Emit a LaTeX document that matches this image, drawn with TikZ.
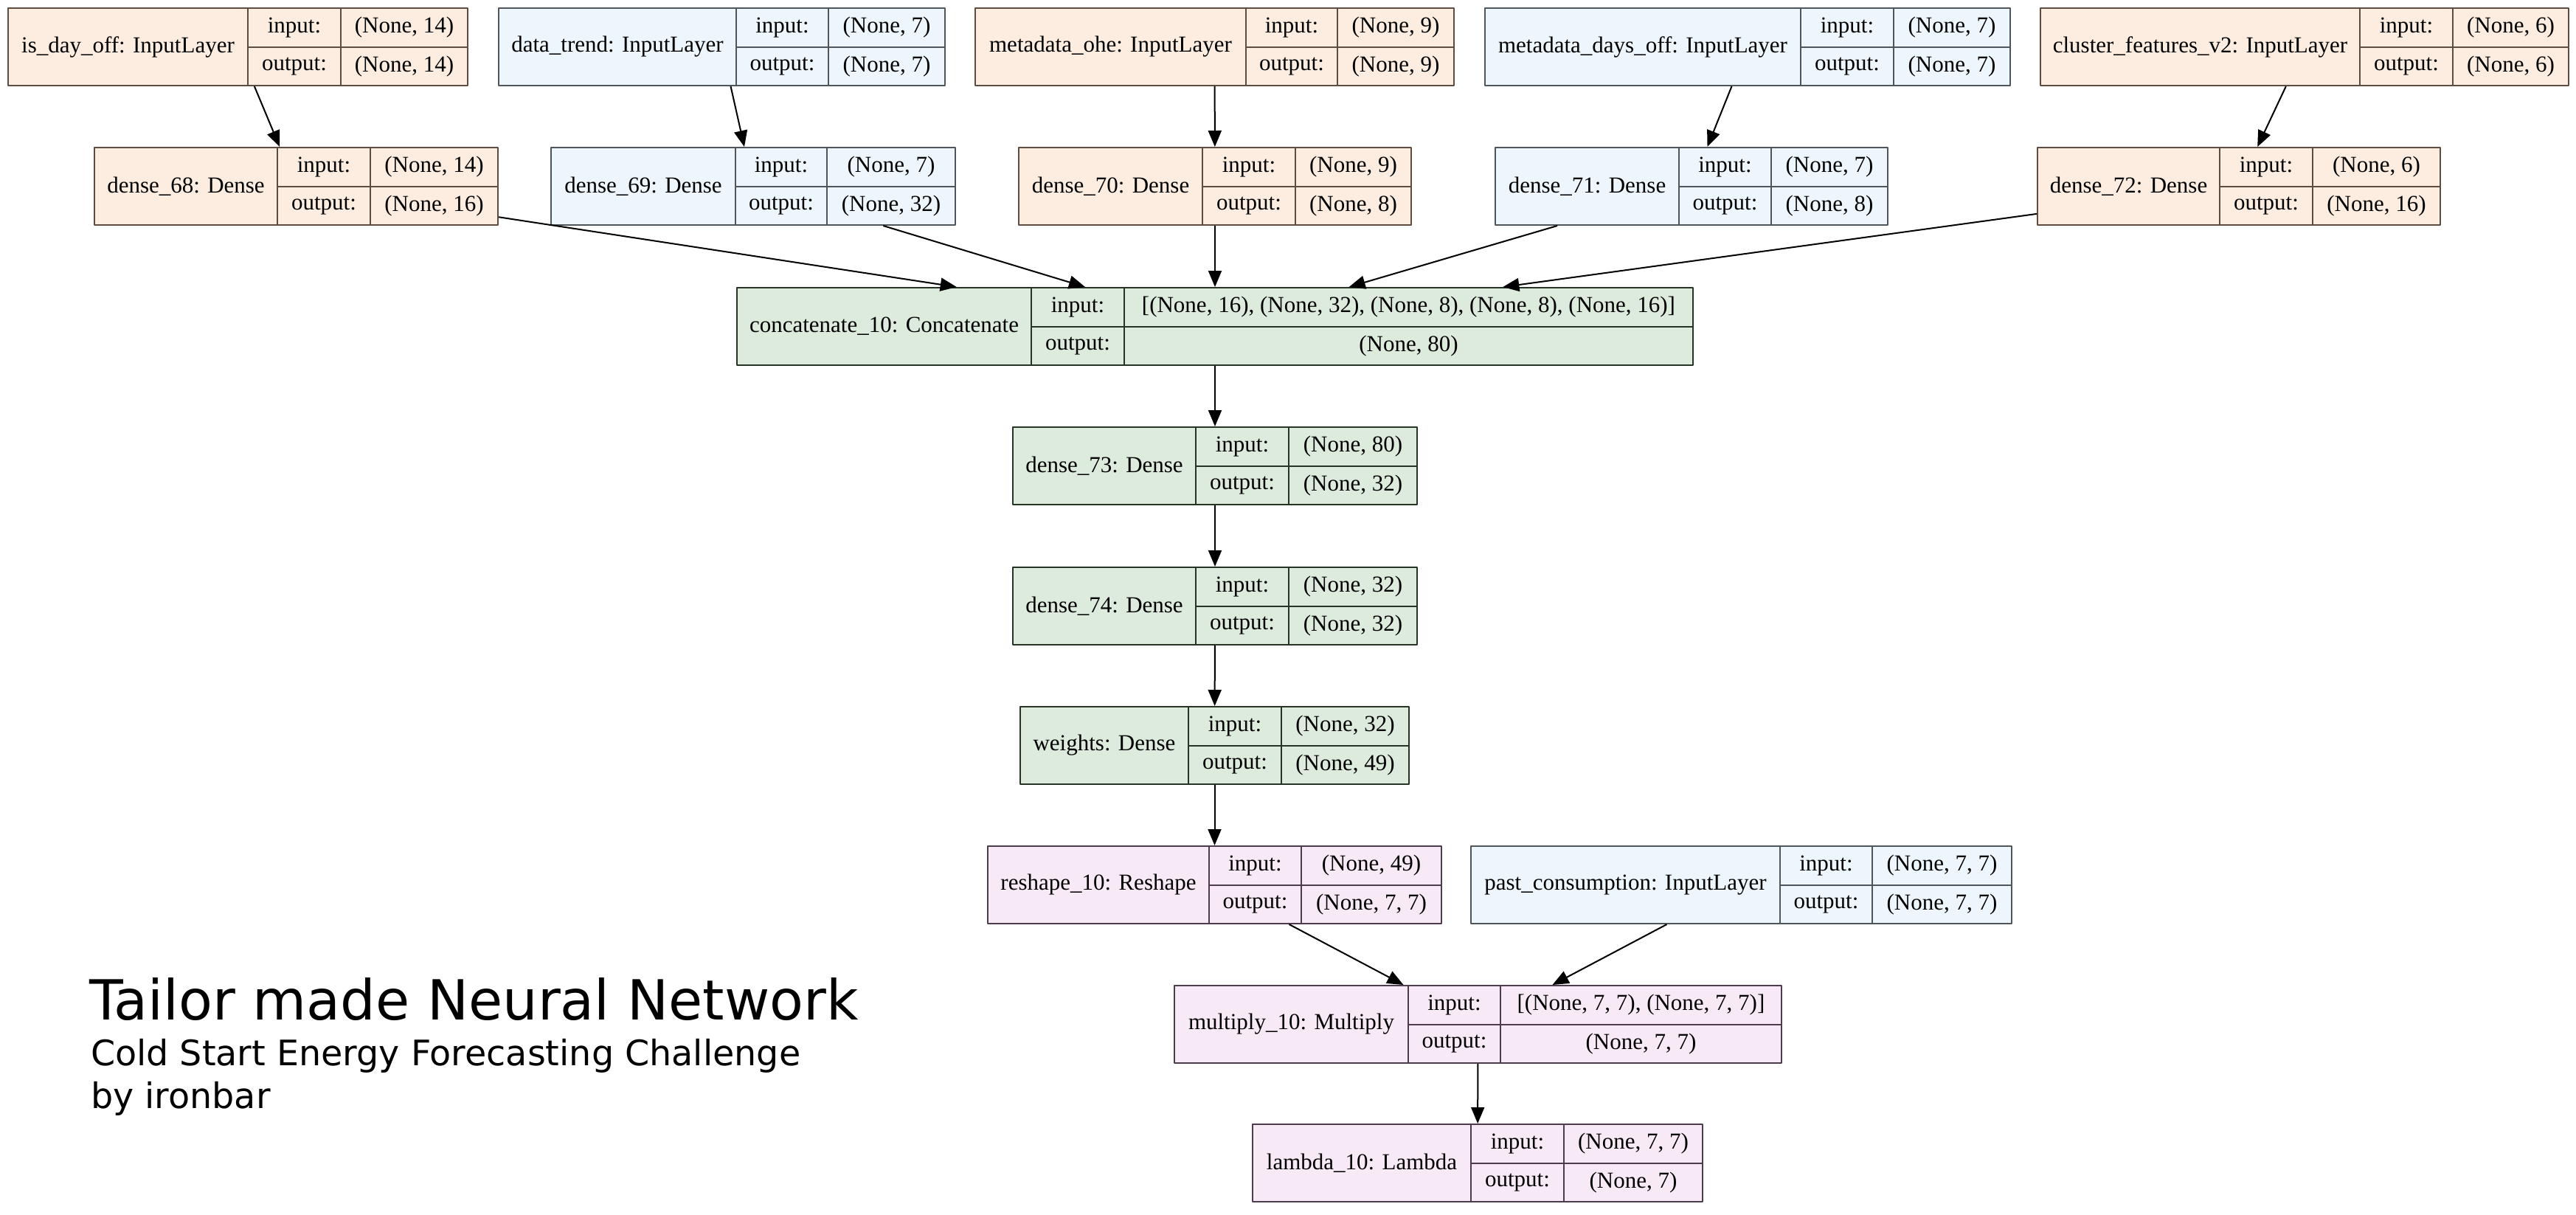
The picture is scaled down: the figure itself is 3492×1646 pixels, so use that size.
\documentclass[tikz,border=0pt]{standalone}
\usepackage{fontspec}
\setmainfont{Liberation Serif}
\newfontfamily\titlefont{DejaVu Sans}
\usetikzlibrary{arrows.meta,fit}
\definecolor{ornF}{HTML}{FDEDE0}
\definecolor{ornD}{HTML}{5E4C40}
\definecolor{bluF}{HTML}{EEF6FD}
\definecolor{bluD}{HTML}{4E565C}
\definecolor{grnF}{HTML}{DDEBDD}
\definecolor{grnD}{HTML}{263426}
\definecolor{pnkF}{HTML}{F8E9F7}
\definecolor{pnkD}{HTML}{4C3C4C}
\begin{document}
\begin{tikzpicture}[x=.5pt,y=-.5pt,line join=round,>={Triangle[length=11pt,width=9pt]},line width=1pt]
	\tikzset{orn/.style={draw=ornD,fill=ornF},blu/.style={draw=bluD,fill=bluF},
		grn/.style={draw=grnD,fill=grnF},pnk/.style={draw=pnkD,fill=pnkF},
		cell/.style={inner sep=0pt,font=\fontsize{15.5}{18}\selectfont},
		head/.style={anchor=base west,inner sep=0pt}}
	\useasboundingbox (0,0) rectangle (3492,1646);
	% layers: name/colour/x of the four edges/top/texts
	\foreach \nm/\st/\xa/\xb/\xc/\xd/\ya/\ttl/\vin/\vout in {
		idoff/orn/11/336/462/634/11/{is\_day\_off: InputLayer}/{(None, 14)}/{(None, 14)},
		dtrend/blu/676/998/1123/1281/11/{data\_trend: InputLayer}/{(None, 7)}/{(None, 7)},
		mohe/orn/1322/1689/1813/1971/11/{metadata\_ohe: InputLayer}/{(None, 9)}/{(None, 9)},
		mdays/blu/2013/2441/2567/2725/11/{metadata\_days\_off: InputLayer}/{(None, 7)}/{(None, 7)},
		clust/orn/2766/3199/3325/3482/11/{cluster\_features\_v2: InputLayer}/{(None, 6)}/{(None, 6)},
		d68/orn/128/376/502/675/200/{dense\_68: Dense}/{(None, 14)}/{(None, 16)},
		d69/blu/747/997/1121/1295/200/{dense\_69: Dense}/{(None, 7)}/{(None, 32)},
		d70/orn/1381/1630/1756/1913/200/{dense\_70: Dense}/{(None, 9)}/{(None, 8)},
		d71/blu/2027/2276/2401/2559/200/{dense\_71: Dense}/{(None, 7)}/{(None, 8)},
		d72/orn/2762/3009/3135/3308/200/{dense\_72: Dense}/{(None, 6)}/{(None, 16)},
		cat/grn/999/1398/1524/2295/390/{concatenate\_10: Concatenate}/{[(None, 16), (None, 32), (None, 8), (None, 8), (None, 16)]}/{(None, 80)},
		d73/grn/1373/1621/1747/1921/579/{dense\_73: Dense}/{(None, 80)}/{(None, 32)},
		d74/grn/1373/1621/1747/1921/769/{dense\_74: Dense}/{(None, 32)}/{(None, 32)},
		wts/grn/1383/1611/1737/1910/958/{weights: Dense}/{(None, 32)}/{(None, 49)},
		resh/pnk/1339/1639/1764/1954/1147/{reshape\_10: Reshape}/{(None, 49)}/{(None, 7, 7)},
		past/blu/1994/2413/2538/2727/1147/{past\_consumption: InputLayer}/{(None, 7, 7)}/{(None, 7, 7)},
		mult/pnk/1592/1909/2034/2415/1336/{multiply\_10: Multiply}/{[(None, 7, 7), (None, 7, 7)]}/{(None, 7, 7)},
		lam/pnk/1698/1994/2120/2308/1524/{lambda\_10: Lambda}/{(None, 7, 7)}/{(None, 7)}}
	{
		\node[\st,fit={(\xa,\ya) (\xd,\ya+105)},inner sep=0pt] (\nm) {};
		\draw[\st,fill=none] (\xb,\ya)--(\xb,\ya+105) (\xc,\ya)--(\xc,\ya+105) (\xb,\ya+52.5)--(\xd,\ya+52.5);
		\node[cell] (\nm-t) at ({(\xa+\xb)/2},\ya+52.5) {\ttl};
		\node[cell] (\nm-i) at ({(\xb+\xc)/2},\ya+26.25) {input:};
		\node[cell] (\nm-o) at ({(\xb+\xc)/2},\ya+78.75) {output:};
		\node[cell] (\nm-iv) at ({(\xc+\xd)/2},\ya+26.25) {\vin};
		\node[cell] (\nm-ov) at ({(\xc+\xd)/2},\ya+78.75) {\vout};
	}
	\foreach \a/\b in {idoff/d68,dtrend/d69,mohe/d70,mdays/d71,clust/d72,d68/cat,d69/cat,d70/cat,d71/cat,d72/cat,
		cat/d73,d73/d74,d74/wts,wts/resh,resh/mult,past/mult,mult/lam}
	\draw[->] (\a)--(\b);
	\node[head,font=\titlefont\fontsize{37.5}{45}\selectfont] (head) at (120,1382) {Tailor made Neural Network};
	\node[head,font=\titlefont\fontsize{23.8}{28}\selectfont] (sub) at (122,1444) {Cold Start Energy Forecasting Challenge};
	\node[head,font=\titlefont\fontsize{23.8}{28}\selectfont] (by) at (122,1502) {by ironbar};
\end{tikzpicture}
\end{document}
